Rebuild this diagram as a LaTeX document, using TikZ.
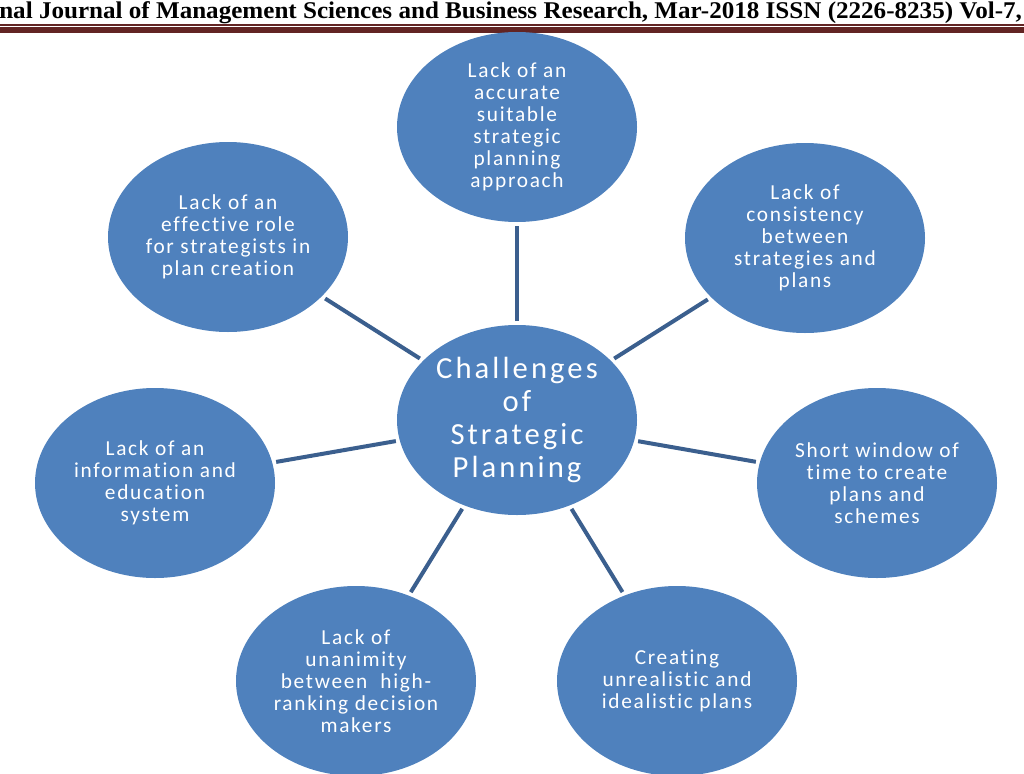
\documentclass[tikz,border=0pt]{standalone}
\usepackage{fontspec}
\usepackage{graphicx}
\usetikzlibrary{shapes.geometric}
\setmainfont{Carlito}
\newfontfamily\bubblefont{Carlito}[LetterSpace=8,Ligatures=NoCommon]
\newfontfamily\hubfont{Carlito}[LetterSpace=10,Ligatures=NoCommon]
\newfontfamily\hdrfont{Liberation Serif}
\definecolor{bubble}{HTML}{4F81BD}
\definecolor{linkblue}{HTML}{3B5F8E}
\definecolor{rulered}{HTML}{622423}
\newsavebox\hdrbox

\begin{document}
\begin{tikzpicture}[x=0.75pt,y=-0.75pt,
  idea/.style={ellipse,fill=bubble,text=white,inner sep=0pt,outer sep=3pt,
    minimum width=180pt,minimum height=142.5pt,align=center,
    font=\bubblefont\fontsize{16pt}{16.5pt}\selectfont},
  hub/.style={idea,font=\hubfont\fontsize{23pt}{24.75pt}\selectfont},
  link/.style={draw=linkblue,line width=3pt}]
\useasboundingbox (0,0) rectangle (1024,774);
\node[anchor=base west,inner sep=0pt] (hdr) at (-1,19)
  {\sbox\hdrbox{\hdrfont\bfseries\fontsize{18pt}{20pt}\selectfont
   nal Journal of Management Sciences and Business Research, Mar-2018 ISSN (2226-8235) Vol-7,}%
   \resizebox{767pt}{\ht\hdrbox}{\usebox\hdrbox}};
\fill[rulered] (0,24) rectangle (1024,25.6);
\fill[rulered] (0,27.5) rectangle (1024,33.3);
\node[hub] (hub) at (517,420) {Challenges\\of\\Strategic\\Planning};
\node[idea] (approach) at (517,127)
  {Lack of an\\accurate\\suitable\\strategic\\planning\\approach};
\node[idea] (role) at (228,237)
  {Lack of an\\effective role\\for strategists in\\plan creation};
\node[idea] (consist) at (805,238)
  {Lack of\\consistency\\between\\strategies and\\plans};
\node[idea] (info) at (155,483)
  {Lack of an\\information and\\education\\system};
\node[idea] (window) at (877,483)
  {Short window of\\time to create\\plans and\\schemes};
\node[idea] (unan) at (356,681)
  {Lack of\\unanimity\\between~ high-\\ranking decision\\makers};
\node[idea] (unreal) at (677,681)
  {Creating\\unrealistic and\\idealistic plans};
\draw[link] (hub) -- (approach);
\draw[link] (hub) -- (role);
\draw[link] (hub) -- (consist);
\draw[link] (hub) -- (info);
\draw[link] (hub) -- (window);
\draw[link] (hub) -- (unan);
\draw[link] (hub) -- (unreal);
\end{tikzpicture}
\end{document}
